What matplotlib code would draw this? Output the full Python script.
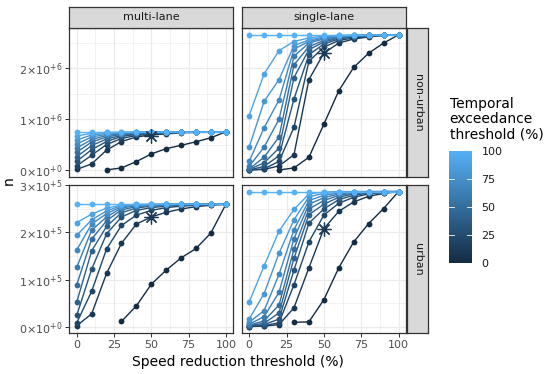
import numpy as np
import matplotlib
matplotlib.use('Agg')
import matplotlib.pyplot as plt
from matplotlib.colors import LinearSegmentedColormap, Normalize
from matplotlib.cm import ScalarMappable

nan = np.nan

speed = [0, 10, 20, 30, 40, 50, 60, 70, 80, 90, 100]
temporal = [0, 10, 20, 30, 40, 50, 60, 70, 80, 90, 100]

# one row per temporal threshold, one column per speed threshold
# non-urban values in units of 1e6
ml_nonurban = [
    [nan, nan, 0.00, 0.04, 0.165, 0.315, 0.42, 0.485, 0.555, 0.635, 0.75],
    [0.01, 0.12, 0.39, 0.56, 0.65, 0.69, 0.71, 0.73, 0.74, 0.745, 0.75],
    [0.08, 0.29, 0.50, 0.62, 0.68, 0.71, 0.73, 0.74, 0.745, 0.75, 0.75],
    [0.17, 0.40, 0.56, 0.66, 0.70, 0.72, 0.735, 0.745, 0.75, 0.75, 0.75],
    [0.26, 0.48, 0.61, 0.68, 0.715, 0.73, 0.74, 0.75, 0.75, 0.75, 0.75],
    [0.35, 0.55, 0.65, 0.70, 0.725, 0.74, 0.745, 0.75, 0.75, 0.75, 0.75],
    [0.43, 0.60, 0.68, 0.715, 0.735, 0.745, 0.75, 0.75, 0.75, 0.75, 0.75],
    [0.51, 0.65, 0.70, 0.725, 0.74, 0.75, 0.75, 0.75, 0.75, 0.75, 0.75],
    [0.59, 0.69, 0.72, 0.735, 0.745, 0.75, 0.75, 0.75, 0.75, 0.75, 0.75],
    [0.67, 0.72, 0.74, 0.745, 0.75, 0.75, 0.75, 0.75, 0.75, 0.75, 0.75],
    [0.75, 0.75, 0.75, 0.75, 0.75, 0.75, 0.75, 0.75, 0.75, 0.75, 0.75],
]
sl_nonurban = [
    [nan, nan, 0.00, 0.04, 0.25, 0.90, 1.56, 2.02, 2.30, 2.50, 2.66],
    [0.00, 0.01, 0.08, 0.30, 1.78, 2.30, 2.50, 2.58, 2.62, 2.65, 2.66],
    [0.00, 0.02, 0.17, 0.84, 2.14, 2.42, 2.55, 2.60, 2.63, 2.65, 2.66],
    [0.00, 0.07, 0.28, 1.40, 2.27, 2.48, 2.58, 2.62, 2.64, 2.65, 2.66],
    [0.01, 0.14, 0.43, 1.82, 2.37, 2.52, 2.60, 2.63, 2.65, 2.66, 2.66],
    [0.02, 0.25, 0.65, 2.07, 2.43, 2.55, 2.61, 2.64, 2.65, 2.66, 2.66],
    [0.07, 0.45, 1.00, 2.24, 2.50, 2.58, 2.62, 2.64, 2.65, 2.66, 2.66],
    [0.17, 0.83, 1.38, 2.38, 2.53, 2.60, 2.63, 2.65, 2.66, 2.66, 2.66],
    [0.45, 1.35, 1.78, 2.45, 2.56, 2.62, 2.64, 2.65, 2.66, 2.66, 2.66],
    [1.07, 1.89, 2.35, 2.53, 2.60, 2.64, 2.65, 2.66, 2.66, 2.66, 2.66],
    [2.66, 2.66, 2.66, 2.66, 2.66, 2.66, 2.66, 2.66, 2.66, 2.66, 2.66],
]
# urban values in units of 1e5
ml_urban = [
    [nan, nan, nan, 0.11, 0.44, 0.90, 1.20, 1.46, 1.66, 1.99, 2.60],
    [0.02, 0.27, 1.13, 1.77, 2.18, 2.33, 2.43, 2.50, 2.55, 2.58, 2.60],
    [0.08, 0.75, 1.65, 2.15, 2.37, 2.47, 2.53, 2.56, 2.58, 2.59, 2.60],
    [0.24, 1.22, 1.97, 2.33, 2.47, 2.53, 2.56, 2.58, 2.59, 2.60, 2.60],
    [0.52, 1.61, 2.13, 2.42, 2.52, 2.56, 2.58, 2.59, 2.60, 2.60, 2.60],
    [0.89, 1.86, 2.25, 2.48, 2.55, 2.58, 2.59, 2.60, 2.60, 2.60, 2.60],
    [1.26, 2.05, 2.33, 2.52, 2.57, 2.59, 2.60, 2.60, 2.60, 2.60, 2.60],
    [1.63, 2.18, 2.40, 2.55, 2.58, 2.59, 2.60, 2.60, 2.60, 2.60, 2.60],
    [1.94, 2.27, 2.46, 2.57, 2.59, 2.60, 2.60, 2.60, 2.60, 2.60, 2.60],
    [2.21, 2.39, 2.52, 2.58, 2.60, 2.60, 2.60, 2.60, 2.60, 2.60, 2.60],
    [2.60, 2.60, 2.60, 2.60, 2.60, 2.60, 2.60, 2.60, 2.60, 2.60, 2.60],
]
sl_urban = [
    [nan, nan, nan, 0.09, 0.10, 0.57, 1.25, 1.80, 2.19, 2.51, 2.87],
    [0.00, 0.01, 0.04, 0.40, 1.25, 2.08, 2.45, 2.65, 2.77, 2.83, 2.87],
    [0.00, 0.02, 0.08, 0.89, 1.80, 2.37, 2.62, 2.75, 2.82, 2.85, 2.87],
    [0.01, 0.04, 0.16, 1.20, 2.20, 2.50, 2.70, 2.79, 2.84, 2.86, 2.87],
    [0.02, 0.07, 0.29, 1.45, 2.38, 2.60, 2.75, 2.82, 2.85, 2.86, 2.87],
    [0.03, 0.12, 0.46, 1.65, 2.50, 2.68, 2.79, 2.84, 2.86, 2.87, 2.87],
    [0.05, 0.21, 0.73, 1.87, 2.60, 2.74, 2.82, 2.85, 2.86, 2.87, 2.87],
    [0.09, 0.34, 1.11, 2.06, 2.68, 2.79, 2.84, 2.86, 2.87, 2.87, 2.87],
    [0.16, 0.70, 1.56, 2.27, 2.76, 2.83, 2.86, 2.87, 2.87, 2.87, 2.87],
    [0.52, 1.29, 2.03, 2.49, 2.82, 2.86, 2.87, 2.87, 2.87, 2.87, 2.87],
    [2.87, 2.87, 2.87, 2.87, 2.87, 2.87, 2.87, 2.87, 2.87, 2.87, 2.87],
]

# marked point in each panel (speed, value in row units)
star_ml_nonurban = (50, 0.675)
star_sl_nonurban = (50, 2.30)
star_ml_urban = (50, 2.33)
star_sl_urban = (50, 2.08)

col_labels = ['multi-lane', 'single-lane']
row_labels = ['non-urban', 'urban']
row_scale = [1e6, 1e5]
row_ylim = [(-0.133, 2.79), (-0.1435, 3.01)]
row_yticks = [[0, 1, 2], [0, 1, 2, 3]]
row_yticklabels = [
    [r'$0{\times}10^{+0}$', r'$1{\times}10^{+6}$', r'$2{\times}10^{+6}$'],
    [r'$0{\times}10^{+0}$', r'$1{\times}10^{+5}$', r'$2{\times}10^{+5}$', r'$3{\times}10^{+5}$'],
]
x_ticks = [0, 25, 50, 75, 100]

panels = [[ml_nonurban, sl_nonurban], [ml_urban, sl_urban]]
stars = [[star_ml_nonurban, star_sl_nonurban], [star_ml_urban, star_sl_urban]]

cmap = LinearSegmentedColormap.from_list('gg', ['#132B43', '#56B1F7'])
norm = Normalize(0, 100)

W, H = 550, 374
fig = plt.figure(figsize=(5.5, 3.74), dpi=100)


def box(l, t, r, b):
    return [l / W, 1 - b / H, (r - l) / W, (b - t) / H]


col_x = [(69.3, 233.3), (241.7, 406.0)]
row_y = [(28.3, 176.7), (185.0, 333.3)]
dark = '#333333'

for r in range(2):
    for c in range(2):
        l, rr = col_x[c]
        t, b = row_y[r]
        ax = fig.add_axes(box(l, t, rr, b))
        ax.set_xlim(-5, 105)
        lo, hi = row_ylim[r]
        sc = row_scale[r]
        ax.set_ylim(lo * sc, hi * sc)
        # grid
        for gx in [12.5, 37.5, 62.5, 87.5]:
            ax.axvline(gx, color='#EBEBEB', lw=0.45, zorder=0)
        for gx in x_ticks:
            ax.axvline(gx, color='#EBEBEB', lw=0.9, zorder=0)
        for gy in np.arange(0.5, hi, 1.0):
            ax.axhline(gy * sc, color='#EBEBEB', lw=0.45, zorder=0)
        for gy in row_yticks[r]:
            ax.axhline(gy * sc, color='#EBEBEB', lw=0.9, zorder=0)

        data = panels[r][c]
        for i, tval in enumerate(temporal):
            vals = np.array(data[i]) * sc
            ax.plot(speed, vals, color=cmap(norm(tval)), lw=1.0, zorder=2)
        for i, tval in enumerate(temporal):
            vals = np.array(data[i]) * sc
            ax.plot(speed, vals, 'o', color=cmap(norm(tval)), ms=4.2, mew=0, zorder=3)
        sx, sy = stars[r][c]
        ax.plot(sx, sy * sc, marker=(8, 2, 0), ms=10, mew=0.9, color='#1C3A57', zorder=4)

        for sp in ax.spines.values():
            sp.set_color(dark)
            sp.set_linewidth(0.9)
        ax.set_xticks(x_ticks)
        ax.set_yticks([v * sc for v in row_yticks[r]])
        ax.tick_params(length=2.8, width=0.7, color=dark, labelcolor='#4D4D4D',
                       labelsize=8, pad=2)
        if r == 1:
            ax.set_xticklabels([str(v) for v in x_ticks])
        else:
            ax.tick_params(axis='x', length=0, labelbottom=False)
        if c == 0:
            ax.set_yticklabels(row_yticklabels[r])
        else:
            ax.tick_params(axis='y', length=0, labelleft=False)

        # column strips
        if r == 0:
            sax = fig.add_axes(box(l, 6.7, rr, t))
            sax.set_facecolor('#D9D9D9')
            sax.set_xticks([])
            sax.set_yticks([])
            for sp in sax.spines.values():
                sp.set_color(dark)
                sp.set_linewidth(0.9)
            sax.text(0.5, 0.5, col_labels[c], ha='center', va='center',
                     fontsize=8, color='#1A1A1A', transform=sax.transAxes)
        # row strips
        if c == 1:
            sax = fig.add_axes(box(rr + 0.7, t, 428.3, b))
            sax.set_facecolor('#D9D9D9')
            sax.set_xticks([])
            sax.set_yticks([])
            for sp in sax.spines.values():
                sp.set_color(dark)
                sp.set_linewidth(0.9)
            sax.text(0.5, 0.5, row_labels[r], ha='center', va='center', rotation=-90,
                     fontsize=8, color='#1A1A1A', transform=sax.transAxes)

fig.text(237.7 / W, 1 - 362 / H, 'Speed reduction threshold (%)', ha='center', va='center',
         fontsize=10, color='black')
fig.text(9 / W, 1 - 180.8 / H, 'n', ha='center', va='center', rotation=90,
         fontsize=10, color='black')

# legend
fig.text(449.5 / W, 1 - 97 / H, 'Temporal\nexceedance\nthreshold (%)', ha='left', va='top',
         fontsize=10, linespacing=1.1, color='black')
cax = fig.add_axes(box(449.3, 150.7, 471.7, 262.7))
sm = ScalarMappable(norm=norm, cmap=cmap)
cb = fig.colorbar(sm, cax=cax, ticks=[0, 25, 50, 75, 100])
cb.outline.set_visible(False)
cax.tick_params(length=0, labelsize=8, pad=7, labelcolor='#1A1A1A')
for v in [25, 50, 75]:
    cax.plot([0, 0.2], [v, v], color='white', lw=0.6, transform=cax.get_yaxis_transform())
    cax.plot([0.8, 1.0], [v, v], color='white', lw=0.6, transform=cax.get_yaxis_transform())

fig.savefig('out.png', dpi=100, facecolor='white')
